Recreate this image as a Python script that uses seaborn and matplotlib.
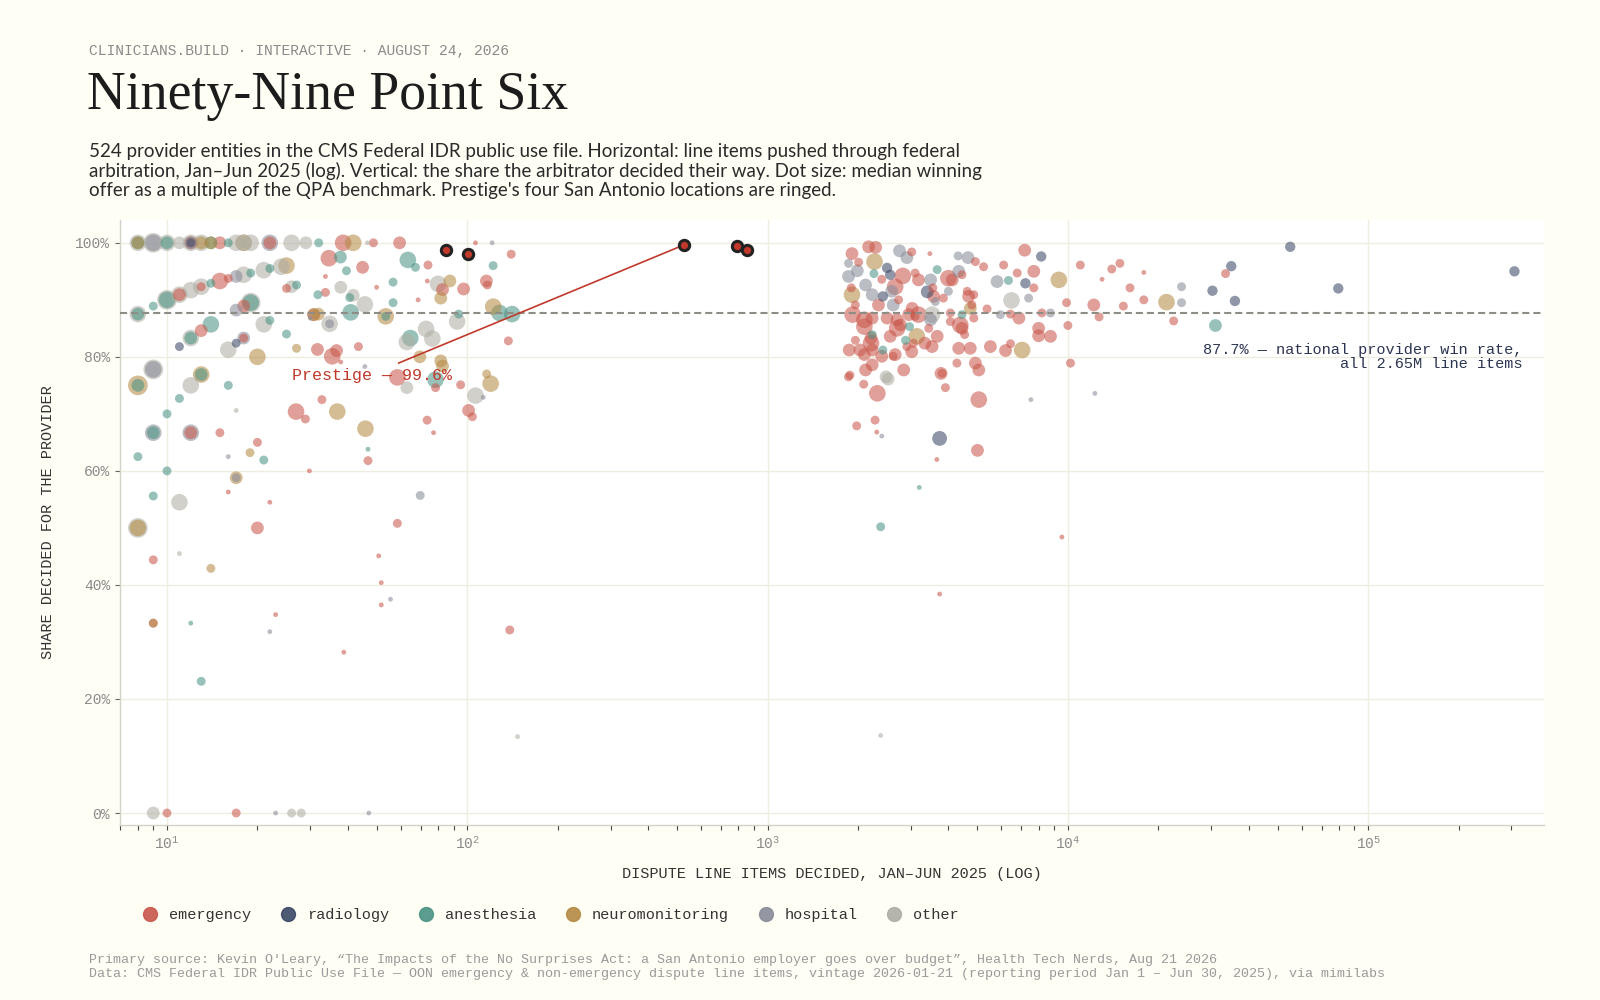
import pandas as pd
import matplotlib
matplotlib.use("Agg")
import matplotlib.pyplot as plt
import matplotlib.ticker as mticker
from matplotlib.lines import Line2D
import seaborn as sns

# colours per specialty
specialties = ["emergency", "radiology", "anesthesia", "neuromonitoring", "hospital", "other"]
colors = ["#c9564a", "#3b4766", "#4a9384", "#b48a44", "#888b98", "#aeada3"]

# each entity: (line items decided Jan-Jun 2025, % decided for provider, median winning offer / QPA)
emergency = [
    (12, 100, 4), (15, 100, 4), (22, 100, 4), (38.6, 100, 6), (48.7, 100, 2.5), (59.5, 100, 4), (106.5, 100, 1.5),
    (11, 90.9, 4), (13, 92.3, 2.5), (15, 93.3, 6), (16, 93.75, 2.5), (18, 88.9, 4), (25, 92.0, 2.5), (13, 84.6, 4),
    (18, 83.3, 2.5), (12, 66.7, 4), (15, 66.7, 2.5), (9, 44.4, 2.5), (9, 33.3, 2.5), (10, 0, 2.5), (17, 0, 2.5),
    (16, 56.3, 1.5), (20, 65, 2.5), (20, 50, 4), (22, 54.5, 1.5), (23, 34.8, 1.5), (26.9, 70.4, 6), (28.9, 69.1, 2.5),
    (29.8, 60, 1.5), (32.8, 72.5, 2.5), (38.8, 28.2, 1.5), (46.7, 61.8, 2.5), (50.7, 45.1, 1.5), (51.7, 40.4, 1.5),
    (51.7, 36.5, 1.5), (58.5, 50.8, 2.5), (73.5, 68.9, 2.5), (77.2, 66.7, 1.5), (101, 70.6, 4), (104, 69.5, 2.5),
    (138.5, 32.1, 2.5), (30.8, 87.4, 4), (33.7, 91.3, 2.5), (33.7, 94.1, 1.5), (34.6, 97.3, 6), (31.7, 81.3, 4),
    (35.5, 80.1, 6), (36.7, 81.1, 4), (37.9, 79.1, 1.5), (43.4, 81.8, 2.5), (44.8, 95.7, 4), (49.9, 92.2, 1.5),
    (68.6, 90, 1.5), (73.6, 93.3, 1.5), (74, 96.1, 2.5), (82.7, 91.8, 4), (97.2, 91.9, 4), (115.8, 93.3, 4),
    (116.6, 92.6, 2.5), (140, 98, 2.5), (137, 82.8, 2.5), (58.5, 76.4, 6), (78.4, 74.6, 2.5), (95, 75.1, 2.5),
    (2170, 99.3, 4), (2290, 99.2, 4), (1910, 98.1, 4), (2010, 96.6, 2.5), (3020, 98.4, 2.5), (3470, 98.1, 1.5),
    (4920, 96.7, 2.5), (5240, 95.8, 2.5), (6110, 96.1, 2.5), (7180, 98.7, 4), (2820, 94.2, 6), (2400, 93.6, 2.5),
    (2660, 92.3, 6), (3100, 94.7, 2.5), (3180, 93.5, 4), (3550, 92.1, 2.5), (4000, 93.8, 6), (4120, 93.5, 4),
    (4440, 94.4, 2.5), (4620, 91.5, 2.5), (4860, 90.9, 2.5), (6780, 94.7, 2.5), (7700, 95.0, 4), (7700, 92.1, 2.5),
    (1900, 92.1, 2.5), (2730, 90.0, 2.5), (3570, 90.6, 4), (3850, 90.3, 2.5), (4670, 90.6, 4), (4790, 89.1, 2.5),
    (1960, 89.1, 2.5), (2340, 89.1, 4), (3030, 88.5, 4), (4060, 87.7, 2.5), (5380, 88.4, 2.5), (6440, 87.5, 2.5),
    (6870, 86.8, 4), (8190, 87.7, 2.5), (1920, 87.4, 6), (2100, 86.5, 6), (2100, 85.3, 6), (2230, 86.8, 4),
    (2500, 86.8, 4), (2700, 86.5, 4), (2700, 85.0, 6), (2770, 85.6, 4), (2950, 87.4, 4), (3100, 87.1, 2.5),
    (3180, 87.4, 6), (3440, 85.0, 2.5), (4060, 86.2, 2.5), (4380, 85.6, 6), (4440, 85.0, 4), (4530, 83.9, 2.5),
    (4860, 86.8, 2.5), (7990, 85.0, 4), (7990, 83.7, 4), (8750, 83.6, 4), (1960, 82.9, 2.5), (2210, 83.3, 4),
    (2210, 82.4, 6), (2560, 83.6, 4), (3060, 82.4, 2.5), (3340, 82.4, 4), (3670, 83.6, 4), (3530, 81.8, 4),
    (4330, 81.5, 4), (4730, 81.5, 4), (5520, 81.8, 4), (6200, 81.1, 4), (6440, 82.3, 2.5), (1870, 81.2, 4),
    (2030, 81.2, 4), (2100, 80.4, 4), (2230, 81.2, 4), (2400, 80.1, 4), (2660, 80.4, 4), (2910, 81.8, 2.5),
    (3020, 80.9, 4), (2620, 80.1, 2.5), (2120, 77.7, 4), (2230, 78.6, 4), (2840, 77.7, 4), (3780, 77.1, 4),
    (4270, 78.9, 2.5), (4920, 78.9, 4), (5050, 77.7, 4), (1860, 76.5, 2.5), (1880, 76.8, 2.5), (1980, 67.9, 2.5),
    (2090, 75.2, 2.5), (2280, 68.9, 2.5), (2320, 73.6, 6), (2310, 66.8, 1.5), (3660, 62, 1.5), (3740, 38.4, 1.5),
    (3810, 77.1, 2.5), (3910, 74.6, 2.5), (5050, 72.5, 6), (5000, 63.6, 4), (9550, 48.4, 1.5), (10200, 78.9, 2.5),
    (11000, 96.1, 2.5), (13000, 93.6, 1.5), (14000, 95.4, 2.5), (14900, 96.4, 2.5), (17900, 94.8, 1.5),
    (16100, 92.1, 2.5), (15300, 88.9, 2.5), (17900, 90, 2.5), (12200, 89.1, 4), (12700, 87, 2.5), (9900, 89.5, 2.5),
    (10000, 85.5, 2.5), (22500, 86.3, 2.5), (33500, 94.6, 2.5),
]

radiology = [
    (12, 100, 2.5), (11, 81.8, 2.5), (17, 82.4, 2.5), (8150, 97.6, 3), (2500, 95.6, 3), (2560, 94.4, 3),
    (7220, 92.9, 3), (2420, 90.6, 3), (3400, 91.4, 4), (3740, 65.7, 5), (30300, 91.6, 3), (35000, 95.9, 3),
    (36000, 89.8, 3), (55000, 99.3, 3), (79500, 92, 3), (307000, 95, 3),
]

anesthesia = [
    (8, 100, 4), (10, 100, 4), (14, 100, 4), (16, 100, 2.5), (32, 100, 2.5), (8, 87.5, 4), (9, 88.9, 2.5),
    (10, 90, 6), (14, 92.9, 2.5), (19, 94.7, 2.5), (22, 95.5, 2.5), (27, 92.6, 2.5), (14, 85.7, 6), (19, 89.5, 6),
    (22, 86.4, 2.5), (25, 84, 2.5), (8, 75, 4), (13, 76.9, 4), (16, 75, 2.5), (11, 72.7, 2.5), (10, 70, 2.5),
    (8, 62.5, 2.5), (9, 66.7, 4), (10, 60, 2.5), (9, 55.6, 2.5), (12, 33.3, 1.5), (13, 23.1, 2.5), (21, 61.9, 2.5),
    (12, 83.3, 4), (31.8, 90.9, 2.5), (37.8, 97.5, 4), (39.6, 95.1, 2.5), (40.6, 90.4, 2.5), (40.9, 87.8, 6),
    (46.7, 63.8, 1.5), (53.5, 87.1, 2.5), (56.6, 93.1, 2.5), (56.6, 89.5, 2.5), (63.4, 97.0, 6), (67.2, 95.7, 2.5),
    (64.6, 83.3, 6), (78.4, 76, 6), (93.6, 87.5, 2.5), (121.9, 96, 2.5), (128, 87.7, 6), (141, 87.5, 6),
    (2260, 94.6, 2.5), (3670, 95.3, 2.5), (6340, 93.4, 2.5), (4440, 87.4, 2.5), (2970, 85.3, 2.5), (2230, 83.9, 2.5),
    (2420, 81.2, 2.5), (2880, 82.9, 2.5), (2380, 50.2, 2.5), (3200, 57.1, 1.5), (31000, 85.5, 4),
]

neuromonitoring = [
    (8, 100, 4), (13, 100, 4), (14, 100, 4), (18, 100, 6), (41.7, 100, 6), (25, 96, 6), (20, 80, 6), (8, 75, 8),
    (13, 76.9, 6), (8, 50, 6), (14, 42.9, 2.5), (18.9, 63.2, 2.5), (17, 58.8, 4), (27, 81.5, 2.5), (9, 33.3, 2.5),
    (31.9, 87.5, 4), (53.5, 87.1, 6), (36.9, 70.4, 6), (45.8, 67.4, 6), (69.5, 80, 4), (81.6, 79.3, 4),
    (82.7, 78.4, 4), (87.5, 93.3, 4), (81.6, 90.3, 4), (116, 77, 2.5), (119.6, 75.3, 6), (122, 88.8, 6),
    (30.8, 87.4, 4), (2270, 96.7, 6), (9330, 93.5, 6), (1910, 90.9, 6), (4730, 88.5, 4), (3140, 83.6, 6),
    (7040, 81.2, 6), (21300, 89.6, 6),
]

hospital = [
    (9, 100, 6), (12, 100, 4), (22, 100, 6), (17, 94.1, 4), (17, 88.2, 4), (9, 77.8, 6), (12, 66.7, 6),
    (9, 66.7, 6), (16, 62.5, 1.5), (22, 31.8, 1.5), (23, 0, 1.5), (47, 0, 1.5), (17, 58.8, 2.5), (34.8, 85.8, 2.5),
    (30, 86.8, 1.5), (45.6, 78.3, 1.5), (55.5, 37.5, 1.5), (69.7, 55.7, 2.5), (113, 72.9, 1.5), (121, 100, 1.5),
    (18, 83.3, 4), (1860, 96.4, 2.5), (2750, 98.6, 4), (2910, 97.4, 4), (4310, 97.7, 2.5), (4650, 97.4, 4),
    (1990, 95.1, 4), (1860, 94.1, 4), (2120, 92.6, 4), (3490, 93.5, 4), (4330, 95.0, 4), (5810, 93.2, 4),
    (2230, 90.9, 4), (2590, 91.5, 4), (3620, 89.7, 2.5), (4000, 91.5, 2.5), (7400, 90.3, 2.5), (2620, 89.1, 4),
    (5960, 87.4, 2.5), (8750, 87.7, 2.5), (3490, 86.5, 4), (2400, 66.1, 1.5), (7530, 72.5, 1.5), (12300, 73.6, 1.5),
    (23900, 92.3, 2.5), (23900, 89.5, 2.5),
]

other = [
    (8, 100, 6), (9, 100, 8), (10, 100, 6), (11, 100, 4), (12, 100, 6), (13, 100, 6), (17, 100, 6), (18, 100, 6),
    (19, 100, 6), (26, 100, 6), (29, 100, 4), (46.5, 100, 1.5), (8, 87.5, 6), (10, 90, 8), (11, 90.9, 6),
    (12, 91.7, 6), (13, 92.3, 6), (18, 94.4, 6), (21, 95.2, 6), (24, 95.8, 6), (26, 92.3, 4), (12, 83.3, 6),
    (21, 85.7, 6), (16, 81.25, 6), (12, 75, 6), (9, 77.8, 8), (19, 89.5, 8), (8, 50, 8), (11, 54.5, 6),
    (11, 45.5, 1.5), (17, 70.6, 1.5), (9, 0, 4), (26, 0, 2.5), (28, 0, 2.5), (37.9, 92.2, 4), (41.7, 90.8, 4),
    (45.6, 89.2, 6), (34.8, 85.8, 6), (62.9, 82.6, 6), (72.9, 84.9, 6), (76.5, 83.2, 6), (62.9, 74.6, 4),
    (79.9, 92.8, 6), (92.5, 86.2, 6), (106.5, 73.2, 6), (147, 13.4, 1.5), (6490, 89.9, 6), (3530, 87.4, 6),
    (2480, 76.5, 4), (2380, 13.6, 1.5), (2520, 76.1, 4),
]

# Prestige's San Antonio locations (ringed)
prestige_items = [85, 100.5, 525, 790, 855]
prestige_share = [98.8, 98.0, 99.6, 99.5, 98.75]

national_rate = 87.7

groups = [emergency, radiology, anesthesia, neuromonitoring, hospital, other]
frames = []
for name, rows in zip(specialties, groups):
    part = pd.DataFrame(rows, columns=["items", "share", "qpa"])
    part["specialty"] = name
    frames.append(part)
df = pd.concat(frames, ignore_index=True)
# big dots first so small ones sit on top
df = df.sort_values("qpa", ascending=False, kind="stable")

sns.set_theme(style="white")
mono = "Liberation Mono"
plt.rcParams["font.family"] = [mono, "DejaVu Sans"]

bg = "#fffef5"
fig = plt.figure(figsize=(16, 10), dpi=100, facecolor=bg)
ax = fig.add_axes([0.0753, 0.175, 0.8897, 0.605])
ax.set_facecolor("white")

palette = dict(zip(specialties, colors))
sns.scatterplot(data=df, x="items", y="share", hue="specialty", size="qpa", sizes=(12, 230),
                size_norm=(1.5, 9), palette=palette, alpha=0.57, linewidth=0, legend=False, ax=ax)

ax.axhline(national_rate, color="#8d8d86", lw=1.5, ls=(0, (3.4, 1.9)), zorder=3)

red = "#c0392b"
ax.plot([59, prestige_items[2]], [78.9, prestige_share[2]], color=red, lw=1.2, zorder=4)
sns.scatterplot(x=prestige_items, y=prestige_share, color=red, edgecolor="#222222", linewidth=2.2, s=55,
                zorder=5, legend=False, ax=ax)
ax.text(26, 76.75, "Prestige — 99.6%", color=red, fontsize=12, ha="left", va="center", zorder=6)
ax.text(3.26e5, 82.5, "87.7% — national provider win rate,\nall 2.65M line items", color="#2c3552",
        fontsize=11, ha="right", va="top", linespacing=1.05, zorder=6)

ax.set_xscale("log")
ax.set_xlim(7.0, 3.85e5)
ax.set_ylim(-2.1, 104)
ax.xaxis.set_major_locator(mticker.LogLocator(base=10, numticks=10))
ax.xaxis.set_minor_locator(mticker.LogLocator(base=10, subs=range(2, 10), numticks=50))
ax.xaxis.set_minor_formatter(mticker.NullFormatter())
ax.set_yticks([0, 20, 40, 60, 80, 100])
ax.yaxis.set_major_formatter(mticker.FuncFormatter(lambda v, _: f"{v:.0f}%"))
ax.tick_params(axis="x", which="both", direction="out", length=3.5, width=0.8, color="#444444",
               labelsize=10.5, labelcolor="#8a8a8a", pad=4, bottom=True)
ax.tick_params(axis="y", which="major", direction="out", length=3.5, width=0.8, color="#666666",
               labelsize=10.5, labelcolor="#8a8a8a", pad=4, left=True)
ax.grid(True, which="major", color="#efece0", lw=1)
ax.set_axisbelow(True)
for side in ["top", "right"]:
    ax.spines[side].set_visible(False)
for side in ["left", "bottom"]:
    ax.spines[side].set_color("#d4d2c8")
    ax.spines[side].set_linewidth(1)
ax.set_xlabel("")
ax.set_ylabel("")

fig.text(0.030, 0.4775, "SHARE DECIDED FOR THE PROVIDER", rotation=90, ha="center", va="center",
         fontsize=11, color="#333333")
fig.text(0.52, 0.126, "DISPUTE LINE ITEMS DECIDED, JAN–JUN 2025 (LOG)", ha="center", va="center",
         fontsize=11, color="#333333")

# header block
fig.text(0.0556, 0.949, "CLINICIANS.BUILD · INTERACTIVE · AUGUST 24, 2026", ha="left", va="center",
         fontsize=10.5, color="#8a8a8a")
fig.text(0.0545, 0.891, "Ninety-Nine Point Six", ha="left", va="baseline", fontsize=38.7,
         family=["Liberation Serif", "DejaVu Serif"], color="#1c1c1c")
fig.text(0.0556, 0.857,
         "524 provider entities in the CMS Federal IDR public use file. Horizontal: line items pushed through federal\n"
         "arbitration, Jan–Jun 2025 (log). Vertical: the share the arbitrator decided their way. Dot size: median winning\n"
         "offer as a multiple of the QPA benchmark. Prestige's four San Antonio locations are ringed.",
         ha="left", va="top", fontsize=13.5, family=["Lato", "DejaVu Sans"], color="#2a2a2a", linespacing=1.15)

handles = [Line2D([], [], marker="o", linestyle="", markersize=10, markerfacecolor=c, markeredgecolor=c, alpha=0.9)
           for c in colors]
fig.legend(handles, specialties, loc="center left", bbox_to_anchor=(0.0805, 0.085), ncol=6, frameon=False,
           fontsize=11, handlelength=1.0, handletextpad=0.75, columnspacing=1.9, labelcolor="#333333")

fig.text(0.0556, 0.040,
         "Primary source: Kevin O'Leary, “The Impacts of the No Surprises Act: a San Antonio employer goes over budget”, "
         "Health Tech Nerds, Aug 21 2026", ha="left", va="center", fontsize=9.6, color="#9a9a9a")
fig.text(0.0556, 0.0255,
         "Data: CMS Federal IDR Public Use File — OON emergency & non-emergency dispute line items, vintage 2026-01-21 "
         "(reporting period Jan 1 – Jun 30, 2025), via mimilabs", ha="left", va="center", fontsize=9.6, color="#9a9a9a")

fig.savefig("out.png", dpi=100, facecolor=bg)
